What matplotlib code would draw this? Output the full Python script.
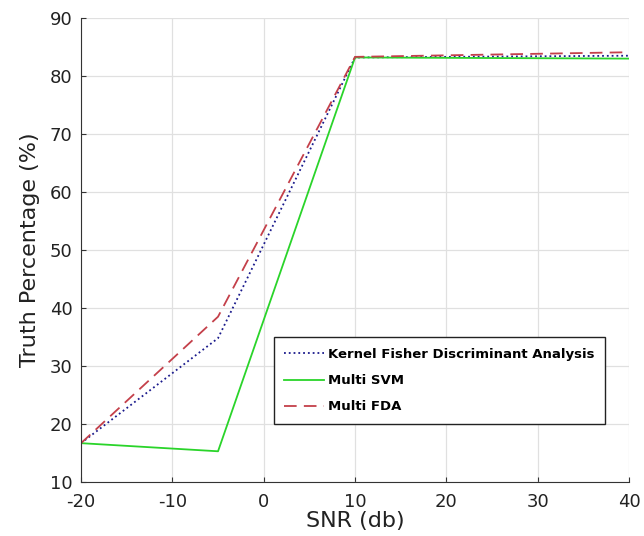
import matplotlib
matplotlib.use("Agg")
import matplotlib.pyplot as plt

plt.rcParams["font.family"] = ["DejaVu Sans"]
plt.rcParams["axes.unicode_minus"] = False

snr = [-20, -5, 10, 40]
kfda = [16.7, 34.8, 83.2, 83.5]
svm = [16.7, 15.3, 83.2, 83.0]
mfda = [16.7, 38.5, 83.3, 84.1]

fig = plt.figure(figsize=(6.44, 5.36), dpi=100)
ax = fig.add_axes([0.1258, 0.1007, 0.851, 0.8657])

ax.plot(snr, kfda, color="#1a1a8c", linestyle=":", linewidth=1.3, label="Kernel Fisher Discriminant Analysis")
ax.plot(snr, svm, color="#2ad42a", linestyle="-", linewidth=1.3, label="Multi SVM")
ax.plot(snr, mfda, color="#c4404a", linestyle=(0, (7, 4)), linewidth=1.3, label="Multi FDA")

ax.set_xlim(-20, 40)
ax.set_ylim(10, 90)
ax.set_xticks([-20, -10, 0, 10, 20, 30, 40])
ax.set_yticks(range(10, 91, 10))
ax.grid(True, color="#e0e0e0", linewidth=0.9)
ax.spines["top"].set_visible(False)
ax.spines["right"].set_visible(False)
for s in ["left", "bottom"]:
    ax.spines[s].set_color("#333333")
ax.tick_params(labelsize=13, direction="in", colors="#333333", labelcolor="#222222")
ax.tick_params(axis="x", pad=8)
ax.tick_params(axis="y", pad=6)
ax.set_xlabel("SNR (db)", fontsize=16, color="#222222")
ax.set_ylabel("Truth Percentage (%)", fontsize=16, color="#222222")
ax.xaxis.set_label_coords(0.5, -0.062)
ax.yaxis.set_label_coords(-0.075, 0.5)

leg = ax.legend(loc="lower right", bbox_to_anchor=(0.968, 0.111), prop={"weight": "bold", "size": 9.5},
                fancybox=False, framealpha=1, edgecolor="#222222", handlelength=3.0, labelspacing=1.0,
                borderpad=0.8, handletextpad=0.3)
leg.get_frame().set_linewidth(1.0)

fig.savefig("out.png", dpi=100)
